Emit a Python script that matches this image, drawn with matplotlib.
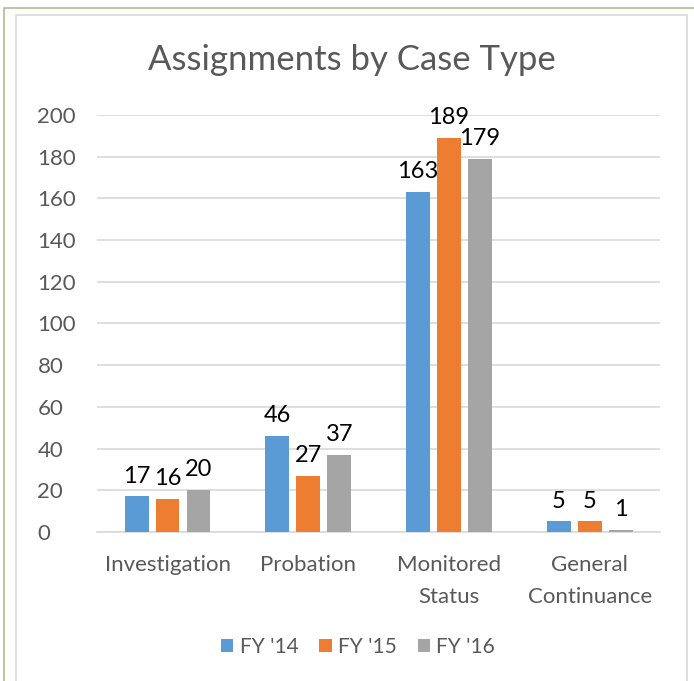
import numpy as np
import matplotlib.pyplot as plt
from matplotlib.patches import Rectangle

categories = ['Investigation', 'Probation', 'Monitored\nStatus', 'General\nContinuance']
series_names = ["FY '14", "FY '15", "FY '16"]
fy14 = [17, 46, 163, 5]
fy15 = [16, 27, 189, 5]
fy16 = [20, 37, 179, 1]
colors = ['#5B9BD5', '#ED7D31', '#A5A5A5']

plt.rcParams['font.family'] = ['Lato', 'DejaVu Sans']

fig = plt.figure(figsize=(6.94, 6.81), dpi=100)
ax = fig.add_axes([0.14, 0.219, 0.811, 0.612])

# chart borders
fig.patches.append(Rectangle((4 / 694, -0.1), 1.2, 1 - 8 / 681 + 0.1, transform=fig.transFigure,
                             fill=False, edgecolor='#A9C08F', linewidth=1.2))
fig.patches.append(Rectangle((16 / 694, -0.1), (687 - 16) / 694, 1 - 15 / 681 + 0.1,
                             transform=fig.transFigure, fill=False, edgecolor='#D9D9D9', linewidth=1.2))

x = np.arange(len(categories))
width = 0.17
offsets = [-0.22, 0, 0.22]
for vals, name, col, off in zip([fy14, fy15, fy16], series_names, colors, offsets):
    bars = ax.bar(x + off, vals, width, color=col, label=name, zorder=3)
    ax.bar_label(bars, labels=[str(v) for v in vals], padding=7, fontsize=17, color='#000000')

ax.set_xlim(-0.5, len(categories) - 0.5)
ax.set_ylim(0, 200)
ax.set_yticks(range(0, 201, 20))
ax.set_xticks(x)
ax.set_xticklabels(categories, linespacing=1.7)
ax.tick_params(axis='both', length=0, labelsize=16, labelcolor='#595959')
ax.tick_params(axis='x', pad=17)
ax.tick_params(axis='y', pad=43)
for lbl in ax.get_yticklabels():
    lbl.set_horizontalalignment('left')
ax.grid(axis='y', color='#D9D9D9', linewidth=1.2, zorder=0)
for s in ['top', 'right', 'left']:
    ax.spines[s].set_visible(False)
ax.spines['bottom'].set_color('#D9D9D9')
ax.spines['bottom'].set_linewidth(1.2)

fig.text(352 / 694, 1 - 60 / 681, 'Assignments by Case Type', ha='center', va='center',
         fontsize=25, color='#595959')

fig.legend(loc='center', bbox_to_anchor=(358 / 694, 1 - 647 / 681), ncol=3, frameon=False,
           fontsize=15, labelcolor='#595959', handlelength=0.6, handleheight=0.6,
           handletextpad=0.3, columnspacing=1.0)

fig.savefig('out.png', dpi=100)
